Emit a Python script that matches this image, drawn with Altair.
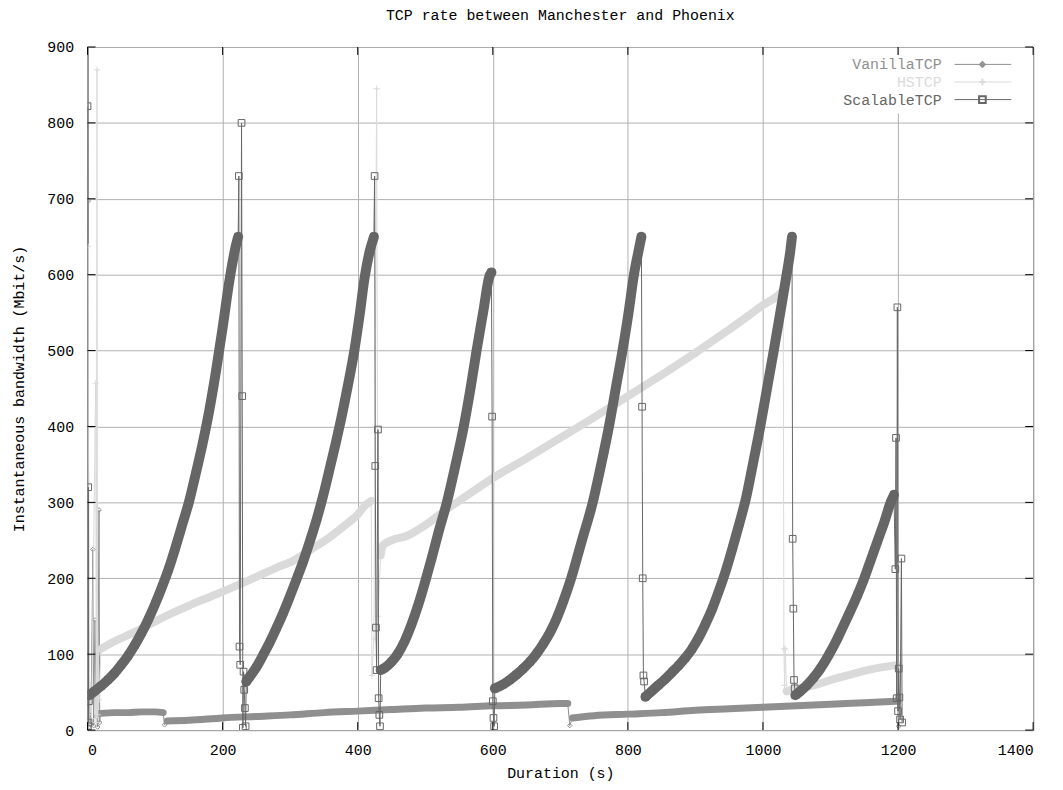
import altair as alt
import pandas as pd

FONT = "Liberation Mono"
W, H = 951, 687

TITLE = "TCP rate between Manchester and Phoenix"
X_TITLE = "Duration (s)"
Y_TITLE = "Instantaneous bandwidth (Mbit/s)"
X_TICKS = [0, 200, 400, 600, 800, 1000, 1200, 1400]
Y_TICKS = [0, 100, 200, 300, 400, 500, 600, 700, 800, 900]

SERIES = ["VanillaTCP", "HSTCP", "ScalableTCP"]
COLORS = ["#8f8f8f", "#dadada", "#666666"]

# ---------------- VanillaTCP (t [s], Mbit/s) ----------------
VAN_SPIKE_A = [(0, 0), (1, 697), (2, 4), (3, 20), (5, 8), (8, 238), (9, 6), (11, 145),
               (13, 18), (15, 4), (17, 290), (18, 10), (19, 22)]
VAN_BAND_A = [(19, 22), (40, 23), (60, 23), (80, 24), (100, 24), (112, 23)]
VAN_SPIKE_B = [(112, 23), (114, 7), (118, 12)]
VAN_BAND_B = [(118, 12), (150, 13), (200, 16), (250, 18), (300, 20), (350, 23), (400, 25),
              (450, 27), (500, 29), (550, 30), (600, 32), (650, 33), (700, 35), (711, 35)]
VAN_SPIKE_C = [(711, 35), (714, 6), (718, 16)]
VAN_BAND_C = [(718, 16), (750, 19), (800, 21), (850, 23), (900, 26), (950, 28), (1000, 30),
              (1050, 32), (1100, 34), (1150, 36), (1199, 38)]
VAN_SPIKE_D = [(1199, 38), (1201, 5)]

# ---------------- HSTCP ----------------
HS_SPIKE_A = [(0, 10), (1, 637), (2, 5), (4, 60), (6, 15), (12, 457), (13, 10), (14, 870),
              (15, 20), (16, 100), (17, 40), (20, 107)]
HS_BAND_A = [(20, 107), (40, 117), (60, 125), (81, 134), (100, 143), (120, 152), (140, 160),
             (160, 168), (180, 175), (199, 182), (220, 190), (240, 198), (260, 206), (280, 214),
             (302, 222), (331, 238), (360, 255), (380, 269), (400, 284), (410, 295), (420, 302)]
HS_SPIKE_B = [(420, 302), (421, 72), (424, 120), (428, 845), (430, 150), (434, 230)]
HS_BAND_B = [(434, 230), (437, 243), (450, 250), (473, 256), (500, 270), (532, 291), (560, 308),
             (600, 332), (650, 358), (700, 385), (750, 412), (802, 441), (850, 468), (900, 497),
             (944, 524), (980, 547), (1000, 560), (1025, 575), (1030, 580)]
HS_SPIKE_C = [(1030, 580), (1031, 107), (1032, 59), (1033, 107), (1035, 51)]
HS_BAND_C = [(1035, 51), (1050, 55), (1076, 59), (1100, 66), (1125, 72), (1150, 78),
             (1165, 81), (1185, 84), (1199, 86)]

# ---------------- ScalableTCP ----------------
SC_SPIKE_0 = [(0, 822), (0.5, 5), (1, 320), (1.5, 10), (2, 38), (3, 46)]
SC_RAMP_1 = [(3, 46), (10, 51), (20, 58), (30, 66), (40, 75), (50, 86), (60, 98), (70, 112),
             (80, 128), (90, 146), (100, 166), (110, 188), (120, 212), (130, 240), (140, 270),
             (150, 300), (160, 337), (170, 376), (180, 420), (190, 472), (200, 530), (210, 592),
             (215, 618), (220, 640), (223, 650)]
SC_SPIKE_1 = [(223, 650), (224, 730), (225, 110), (226, 86), (228, 800), (229, 440), (230, 3),
              (231, 77), (232, 53), (233, 29), (234, 5), (235, 64)]
SC_RAMP_2 = [(235, 64), (240, 70), (250, 83), (260, 99), (270, 116), (280, 135), (290, 155),
             (300, 177), (310, 200), (320, 224), (330, 251), (340, 280), (350, 313), (360, 350),
             (368, 380), (375, 408), (385, 452), (395, 500), (403, 548), (410, 595), (417, 628),
             (424, 650)]
SC_SPIKE_2 = [(424, 650), (425, 730), (426, 348), (427, 135), (428, 79), (430, 396), (431, 42),
              (432, 20), (433, 5), (434, 79)]
SC_RAMP_3 = [(434, 79), (440, 82), (450, 90), (459, 100), (470, 118), (480, 140), (490, 166),
             (500, 196), (510, 228), (520, 262), (532, 300), (545, 350), (557, 400), (567, 450),
             (576, 500), (586, 552), (595, 598), (598, 603)]
SC_SPIKE_3 = [(598, 603), (599, 413), (600, 38), (601, 16), (602, 5), (603, 55)]
SC_RAMP_4 = [(603, 55), (615, 60), (625, 66), (635, 73), (645, 81), (655, 90), (665, 101),
             (675, 114), (685, 129), (695, 148), (705, 171), (716, 200), (732, 250), (748, 300),
             (760, 348), (772, 400), (782, 450), (792, 500), (801, 550), (809, 600), (815, 628),
             (820, 650)]
SC_SPIKE_4 = [(820, 650), (821, 426), (822, 200), (823, 72), (824, 64), (826, 44)]
SC_RAMP_5 = [(826, 44), (835, 51), (845, 59), (855, 67), (865, 76), (875, 85), (885, 95),
             (895, 107), (905, 122), (915, 140), (925, 160), (935, 184), (945, 210), (955, 240),
             (965, 272), (975, 306), (985, 350), (996, 400), (1006, 450), (1016, 500),
             (1026, 552), (1035, 600), (1040, 628), (1043, 650)]
SC_SPIKE_5 = [(1043, 650), (1044, 252), (1045, 160), (1046, 66), (1047, 55), (1048, 46)]
SC_RAMP_6 = [(1048, 46), (1055, 51), (1065, 59), (1075, 69), (1085, 81), (1098, 100),
             (1110, 120), (1120, 139), (1130, 158), (1140, 178), (1150, 200), (1160, 225),
             (1170, 250), (1180, 275), (1189, 300), (1194, 310)]
SC_SPIKE_6 = [(1194, 310), (1196, 212), (1197, 385), (1198, 42), (1199, 557), (1200, 25),
              (1201, 81), (1202, 43), (1203, 14), (1205, 226), (1206, 10)]


def build(name, segments):
    rows = []
    i = 0
    for k, (kind, pts) in enumerate(segments):
        for t, v in pts:
            rows.append(dict(series=name, seg=f"{name}-{k}", kind=kind, i=i, t=t, v=v))
            i += 1
    return pd.DataFrame(rows)


van_df = build("VanillaTCP", [("spike", VAN_SPIKE_A), ("band", VAN_BAND_A), ("spike", VAN_SPIKE_B),
                              ("band", VAN_BAND_B), ("spike", VAN_SPIKE_C), ("band", VAN_BAND_C),
                              ("spike", VAN_SPIKE_D)])
hs_df = build("HSTCP", [("spike", HS_SPIKE_A), ("band", HS_BAND_A), ("spike", HS_SPIKE_B),
                        ("band", HS_BAND_B), ("spike", HS_SPIKE_C), ("band", HS_BAND_C)])
sc_df = build("ScalableTCP", [("spike", SC_SPIKE_0), ("band", SC_RAMP_1), ("spike", SC_SPIKE_1),
                              ("band", SC_RAMP_2), ("spike", SC_SPIKE_2), ("band", SC_RAMP_3),
                              ("spike", SC_SPIKE_3), ("band", SC_RAMP_4), ("spike", SC_SPIKE_4),
                              ("band", SC_RAMP_5), ("spike", SC_SPIKE_5), ("band", SC_RAMP_6),
                              ("spike", SC_SPIKE_6)])

X = alt.X("t:Q", scale=alt.Scale(domain=[0, 1400], nice=False),
          axis=alt.Axis(values=X_TICKS, title=X_TITLE, format="d", labelPadding=13,
                        titlePadding=8, grid=True))
Y = alt.Y("v:Q", scale=alt.Scale(domain=[0, 900], nice=False),
          axis=alt.Axis(values=Y_TICKS, title=Y_TITLE, format="d", labelPadding=14,
                        titlePadding=20, grid=True))

PLUS = "M -1 0 L 1 0 M 0 -1 L 0 1"


def series_layers(df, color, band_w, shape, size):
    band = alt.Chart(df).transform_filter("datum.kind == 'band'").mark_line(
        color=color, strokeWidth=band_w, strokeJoin="round", strokeCap="round",
        interpolate="monotone", clip=True
    ).encode(x=X, y=Y, detail="seg:N", order="i:Q")
    thin = alt.Chart(df).mark_line(color=color, strokeWidth=1, clip=True).encode(
        x=X, y=Y, order="i:Q")
    pts = alt.Chart(df).mark_point(shape=shape, filled=False, size=size, color=color,
                                   strokeWidth=1, opacity=1, clip=True).encode(x=X, y=Y)
    return [band, thin, pts]


layers = []
layers += series_layers(van_df, COLORS[0], 7, "diamond", 22)
layers += series_layers(hs_df, COLORS[1], 8, PLUS, 40)
layers += series_layers(sc_df, COLORS[2], 10, "square", 45)

# inward tick marks on all four sides (gnuplot style)
xt = pd.DataFrame({"t": X_TICKS})
yt = pd.DataFrame({"v": Y_TICKS})
layers += [
    alt.Chart(xt).mark_rule(color="black").encode(x=X, y=alt.value(H), y2=alt.value(H - 8)),
    alt.Chart(xt).mark_rule(color="black").encode(x=X, y=alt.value(0), y2=alt.value(8)),
    alt.Chart(yt).mark_rule(color="black").encode(y=Y, x=alt.value(0), x2=alt.value(8)),
    alt.Chart(yt).mark_rule(color="black").encode(y=Y, x=alt.value(W), x2=alt.value(W - 8)),
]

# key box (opaque) with entries
layers.append(alt.Chart(pd.DataFrame({"a": [0]})).mark_rect(color="white").encode(
    x=alt.value(735), x2=alt.value(945), y=alt.value(8), y2=alt.value(67)))
SYMBOLS = ["diamond", PLUS, "square"]
SYM_SIZE = [22, 40, 45]
for r, (name, col) in enumerate(zip(SERIES, COLORS)):
    yy = 17.5 + r * 17.7
    d = pd.DataFrame({"label": [name]})
    layers.append(alt.Chart(d).mark_text(align="right", baseline="middle", font=FONT,
                                         fontSize=15, color=col).encode(
        x=alt.value(859), y=alt.value(yy), text="label:N"))
    layers.append(alt.Chart(d).mark_rule(color=col, strokeWidth=1).encode(
        x=alt.value(872), x2=alt.value(929), y=alt.value(yy)))
    layers.append(alt.Chart(d).mark_point(shape=SYMBOLS[r], filled=False, size=SYM_SIZE[r],
                                          color=col, opacity=1).encode(
        x=alt.value(900), y=alt.value(yy)))

chart = alt.layer(*layers).properties(
    width=W, height=H,
    title=alt.TitleParams(TITLE, font=FONT, fontSize=15, fontWeight="normal", color="black",
                          anchor="middle", offset=17),
    padding={"left": 80, "top": 37, "right": 22, "bottom": 50},
    autosize=alt.AutoSizeParams(type="none"),
).configure_view(stroke="black", strokeWidth=1).configure_axis(
    gridColor="#b0b0b0", gridWidth=1, gridOpacity=1, domain=False, ticks=False, tickSize=0,
    labelFont=FONT, labelFontSize=15, labelColor="black", titleFont=FONT, titleFontSize=15,
    titleFontWeight="normal", titleColor="black",
)

chart.save("out.html", embed_options={"renderer": "svg", "actions": False})
